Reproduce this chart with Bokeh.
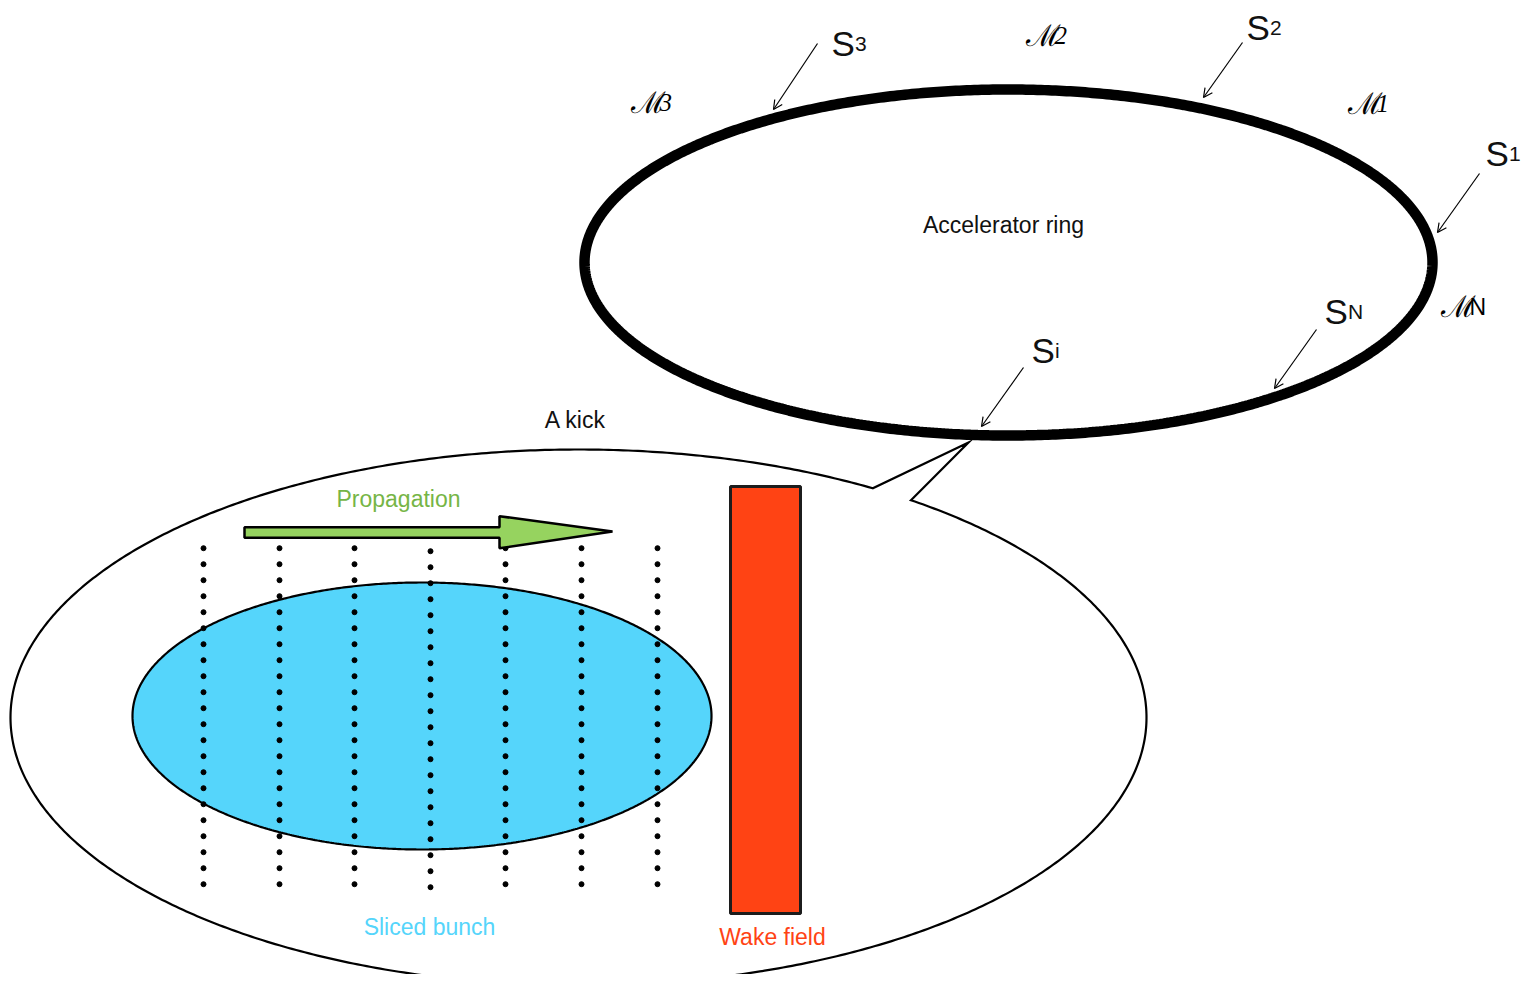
import numpy as np
from bokeh.plotting import figure
from bokeh.models import Range1d, Arrow, OpenHead
from bokeh.core.properties import value
from bokeh.embed import file_html
from bokeh.resources import INLINE

# ---------------- diagram data (screen-pixel coordinates) ----------------
ring_center = [1008, 262]
ring_radii = [424, 173]

callout_center = [578, 717]
callout_radii = [568, 268]
callout_tail_left = [872, 488]
callout_tail_tip = [968, 442]
callout_tail_right = [910, 500]

bunch_center = [421.5, 715.5]
bunch_radii = [289.5, 133.5]

slice_x = [203, 279, 354, 430, 505, 581, 657]
slice_y_start = [547.7, 547.7, 547.7, 550.7, 547.7, 547.7, 547.7]
slice_dot_count = 22
slice_dot_step = 16

wake_left, wake_right, wake_top, wake_bottom = 730, 800, 486, 913

prop_x = [244, 499, 499, 612, 499, 499, 244]
prop_y = [526.7, 526.7, 515.7, 531, 547.7, 537.3, 537.3]

s_labels = ["S", "S", "S", "S", "S"]
s_subs = ["3", "2", "1", "N", "i"]
s_x = [831, 1246, 1485, 1324, 1031]
s_y = [43, 27, 153, 311, 350]
arrow_start_x = [817, 1242, 1479, 1316, 1023]
arrow_start_y = [43, 42, 173, 329, 367]
arrow_end_x = [773, 1203, 1437, 1274, 981]
arrow_end_y = [109, 97, 232, 388, 426]

m_subs = ["3", "2", "1", "N"]
m_x = [630, 1025, 1347, 1440]
m_y = [102, 35, 103, 306]

BLUE = "#55D5FB"
RED = "#FF4314"
GREEN_FILL = "#96D35F"
GREEN_TEXT = "#76B546"
SANS = "Liberation Sans"


def ellipse_pts(c, r, t0=0.0, t1=2 * np.pi, n=720):
    t = np.linspace(t0, t1, n)
    return c[0] + r[0] * np.cos(t), c[1] - r[1] * np.sin(t)


W, H = 1529, 974
p = figure(width=W, height=H, x_range=Range1d(0, W), y_range=Range1d(H, 0),
           output_backend="svg", toolbar_location=None, min_border=0,
           x_axis_location=None, y_axis_location=None, tools="")
p.xgrid.visible = False
p.ygrid.visible = False
p.outline_line_color = None
p.background_fill_color = "white"
p.border_fill_color = "white"

# ---- callout (big ellipse with tail) ----
def angle_of(pt):
    return np.arctan2((callout_center[1] - pt[1]) / callout_radii[1],
                      (pt[0] - callout_center[0]) / callout_radii[0])

tL = angle_of(callout_tail_left)
tR = angle_of(callout_tail_right)
cx, cy = ellipse_pts(callout_center, callout_radii, tL, tR + 2 * np.pi)
cx = list(cx) + [callout_tail_tip[0]]
cy = list(cy) + [callout_tail_tip[1]]
p.patch(cx, cy, fill_color="white", line_color="black", line_width=2.2, line_join="miter")

# ---- bunch ----
bx, by = ellipse_pts(bunch_center, bunch_radii)
p.patch(list(bx), list(by), fill_color=BLUE, line_color="black", line_width=2.2)

# ---- slice dots ----
dx, dy = [], []
for x0, y0 in zip(slice_x, slice_y_start):
    for k in range(slice_dot_count):
        dx.append(x0)
        dy.append(y0 + k * slice_dot_step)
p.scatter(dx, dy, size=5, color="black")

# ---- propagation arrow ----
p.patch(prop_x, prop_y, fill_color=GREEN_FILL, line_color="black", line_width=2.5, line_join="bevel")

# ---- wake field ----
p.quad(left=[wake_left], right=[wake_right], top=[wake_top], bottom=[wake_bottom],
       fill_color=RED, line_color="#1c1c1c", line_width=3)

# ---- ring ----
rx_, ry_ = ellipse_pts(ring_center, ring_radii)
p.line(list(rx_), list(ry_), line_color="black", line_width=10.5)

# ---- pointer arrows ----
for x0, y0, x1, y1 in zip(arrow_start_x, arrow_start_y, arrow_end_x, arrow_end_y):
    p.add_layout(Arrow(end=OpenHead(size=9, line_width=1.2, line_color="black"),
                       x_start=x0, y_start=y0, x_end=x1, y_end=y1,
                       line_width=1.2, line_color="black"))

# ---- S labels ----
p.text(x=s_x, y=s_y, text=s_labels, text_font=value(SANS), text_font_size="35px",
       text_baseline="alphabetic", text_align="left", text_color="#111111")
sub_x = [x + 23.5 for x in s_x]
p.text(x=sub_x, y=s_y, text=s_subs, text_font=value(SANS), text_font_size="21px",
       text_baseline="alphabetic", text_align="left", text_color="#111111")

# ---- M labels ----
p.text(x=m_x, y=m_y, text=["ℳ"] * 4, text_font=value("DejaVu Serif"), text_font_size="30px",
       text_baseline="alphabetic", text_align="left", text_color="black")
mnum_x = [x + 29 for x in m_x]
p.text(x=mnum_x[:3], y=m_y[:3], text=m_subs[:3], text_font=value("Liberation Serif"), text_font_size="25px",
       text_font_style="italic", text_baseline="alphabetic", text_align="left", text_color="black")
p.text(x=mnum_x[3:], y=m_y[3:], text=m_subs[3:], text_font=value(SANS), text_font_size="23px",
       text_baseline="alphabetic", text_align="left", text_color="black")

# ---- captions ----
cap_text = ["Accelerator ring", "A kick", "Propagation", "Sliced bunch", "Wake field"]
cap_x = [1003, 575, 398, 429, 772]
cap_y = [224, 419, 498, 926, 936]
cap_color = ["#111111", "#111111", GREEN_TEXT, BLUE, RED]
p.text(x=cap_x, y=cap_y, text=cap_text, text_color=cap_color, text_font=value(SANS),
       text_font_size="23px", text_baseline="alphabetic", text_align="center")

open("out.html", "w").write(file_html(p, INLINE))
